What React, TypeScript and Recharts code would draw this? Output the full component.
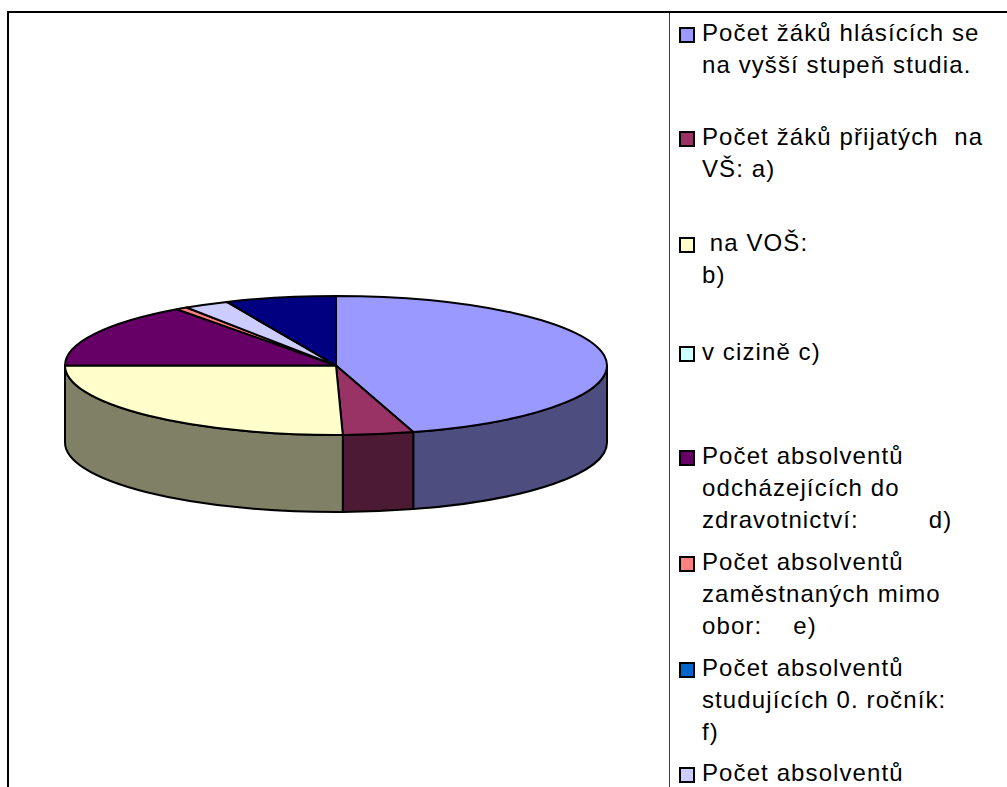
/**
 * 3D-look pie with a tall side legend, cut by the bottom of the page.
 */
import React from 'react'
import { PieChart, Pie, Legend } from 'recharts'

const categories = [
  'Počet žáků hlásících se na vyšší stupeň studia.',
  'Počet žáků přijatých  na VŠ: a)',
  ' na VOŠ: b)',
  'v cizině c)',
  'Počet absolventů odcházejících do zdravotnictví: d)',
  'Počet absolventů zaměstnaných mimo obor: e)',
  'Počet absolventů studujících 0. ročník: f)',
  'Počet absolventů',
  'Ostatní',
]
const values = [45.4, 4.2, 25.4, 0, 15.0, 0.7, 0, 2.7, 6.6]
const colors = ['#9999FF', '#993366', '#FFFFCC', '#CCFFFF', '#660066', '#FF8080', '#0066CC', '#CCCCFF', '#000080']
const wallColors = ['#4D4D80', '#4D1A33', '#808066', '#668080', '#330033', '#804040', '#003366', '#666680', '#000040']

// legend text broken the way the picture breaks it
const legendLines = [
  ['Počet žáků hlásících se', 'na vyšší stupeň studia.'],
  ['Počet žáků přijatých  na', 'VŠ: a)'],
  [' na VOŠ:', 'b)'],
  ['v cizině c)'],
  ['Počet absolventů', 'odcházejících do', 'zdravotnictví:         d)'],
  ['Počet absolventů', 'zaměstnaných mimo', 'obor:    e)'],
  ['Počet absolventů', 'studujících 0. ročník:', 'f)'],
  ['Počet absolventů'],
]
const legendTops = [17, 121, 227, 336, 440, 546, 652, 757]

const data = categories.map((name, i) => ({
  name,
  value: values[i],
  fill: colors[i],
  wall: wallColors[i],
}))

const RX = 271
const SQUASH = 69.5 / 271
const DEPTH = 77
const RAD = Math.PI / 180

const px = (cx: number, r: number, deg: number) => cx + r * Math.cos(deg * RAD)
const py = (cy: number, r: number, deg: number) => cy - r * SQUASH * Math.sin(deg * RAD)

// top face: the library's sector angles laid on a flattened circle
const TopFace = ({ cx, cy, outerRadius: r, startAngle, endAngle, fill }: any) => {
  if (startAngle === endAngle) return null
  const large = Math.abs(startAngle - endAngle) > 180 ? 1 : 0
  const d =
    `M${cx},${cy} L${px(cx, r, startAngle)},${py(cy, r, startAngle)} ` +
    `A${r},${r * SQUASH} 0 ${large} 1 ${px(cx, r, endAngle)},${py(cy, r, endAngle)} Z`
  return <path d={d} fill={fill} stroke="#000" strokeWidth={2} strokeLinejoin="round" />
}

// side wall: only the part of the sector facing the viewer
const SideWall = ({ cx, cy, outerRadius: r, startAngle, endAngle, payload }: any) => {
  const hi = Math.min(startAngle, 0)
  const lo = Math.max(endAngle, -180)
  if (lo >= hi) return null
  const ry = r * SQUASH
  const d =
    `M${px(cx, r, hi)},${py(cy, r, hi)} ` +
    `A${r},${ry} 0 0 1 ${px(cx, r, lo)},${py(cy, r, lo)} ` +
    `L${px(cx, r, lo)},${py(cy, r, lo) + DEPTH} ` +
    `A${r},${ry} 0 0 0 ${px(cx, r, hi)},${py(cy, r, hi) + DEPTH} Z`
  return <path d={d} fill={payload.wall} stroke="#000" strokeWidth={2} strokeLinejoin="round" />
}

const SideLegend = ({ payload }: any) => (
  <div style={{ position: 'relative', width: 338, height: 787 }}>
    {(payload || []).slice(0, legendTops.length).map((entry: any, i: number) => (
      <div key={i} style={{ position: 'absolute', left: 0, top: legendTops[i] }}>
        <div
          style={{
            position: 'absolute',
            left: 10,
            top: 10,
            width: 12,
            height: 12,
            background: entry.color,
            border: '2px solid #000',
          }}
        />
        {legendLines[i].map((line, j) => (
          <div
            key={j}
            style={{
              position: 'absolute',
              left: 33,
              top: j * 32,
              lineHeight: '32px',
              fontFamily: 'Liberation Sans',
              fontSize: 24,
              letterSpacing: 1.1,
              color: '#000',
              whiteSpace: 'pre',
            }}
          >
            {line}
          </div>
        ))}
      </div>
    ))}
  </div>
)

export default function App() {
  return (
    <div style={{ position: 'absolute', left: 0, top: 0, width: 1007, height: 787, overflow: 'hidden', background: '#fff' }}>
      <div style={{ position: 'absolute', left: 7, top: 11, width: 1000, height: 2, background: '#000' }} />
      <div style={{ position: 'absolute', left: 7, top: 11, width: 2, height: 776, background: '#000' }} />
      <div style={{ position: 'absolute', left: 669, top: 13, width: 1, height: 774, background: '#404040' }} />
      <PieChart
        width={1007}
        height={787}
        margin={{ top: 0, right: 0, bottom: 0, left: 0 }}
        style={{ position: 'absolute', left: 0, top: 0 }}
      >
        <Pie
          data={data}
          dataKey="value"
          nameKey="name"
          cx={336}
          cy={365.5}
          outerRadius={RX}
          startAngle={90}
          endAngle={-270}
          legendType="none"
          shape={SideWall}
          isAnimationActive={false}
        />
        <Pie
          data={data}
          dataKey="value"
          nameKey="name"
          cx={336}
          cy={365.5}
          outerRadius={RX}
          startAngle={90}
          endAngle={-270}
          shape={TopFace}
          isAnimationActive={false}
        />
        <Legend
          itemSorter={null}
          content={SideLegend}
          wrapperStyle={{ position: 'absolute', left: 669, top: 0, width: 338, height: 787 }}
        />
      </PieChart>
    </div>
  )
}
